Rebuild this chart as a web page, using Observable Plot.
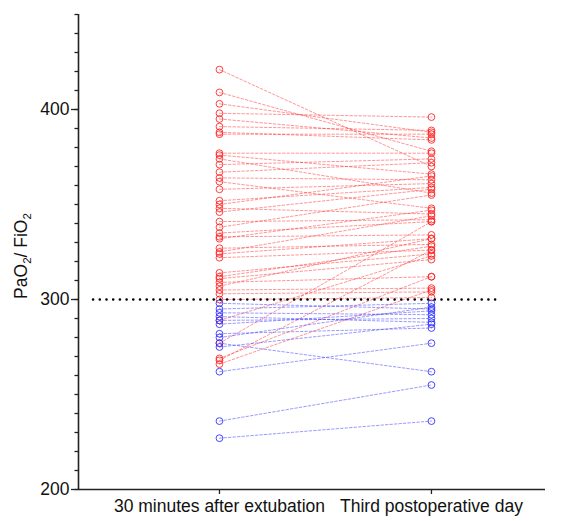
<!DOCTYPE html>
<html>
<head>
<meta charset="utf-8">
<script src="https://cdn.jsdelivr.net/npm/d3@7"></script>
<script src="https://cdn.jsdelivr.net/npm/@observablehq/plot@0.6"></script>
<style>
  html, body { margin: 0; padding: 0; background: #fff; }
  #chart { width: 563px; height: 521px; }
  svg { font-family: "Liberation Sans", Arial, sans-serif; }
</style>
</head>
<body>
<div id="chart"></div>
<script>
// Categories (x)
const categories = ["30 minutes after extubation", "Third postoperative day"];
// PaO2/FiO2 at 30 minutes after extubation (one per patient)
const before = [421, 409, 403, 398, 395, 391, 388, 387, 377, 376, 374, 371, 367, 364, 362, 358,
  352, 350, 348, 346, 341, 338, 335, 333, 332, 327, 325, 324, 322, 314, 312, 311, 309, 307, 305,
  303, 300, 289, 277, 269, 268, 266,
  298, 295, 293, 291, 289, 287, 282, 280, 277, 275, 262, 236, 227];
// PaO2/FiO2 on the third postoperative day (same patients, same order)
const after = [370, 378, 388, 396, 385, 389, 384, 387, 377, 366, 356, 374, 372, 363, 348, 361,
  359, 365, 345, 358, 342, 355, 341, 334, 347, 329, 344, 332, 326, 324, 328, 321, 312, 332, 306,
  304, 301, 323, 341, 312, 326, 305,
  295, 298, 292, 288, 290, 294, 285, 296, 262, 287, 277, 255, 236];
// Threshold reference line
const threshold = 300;
const yTicks = [200, 300, 400];
const yMinorTicks = d3.range(200, 451, 10);
const yDomain = [200, 450];
const xDomain = [-0.665, 1.538];
const thresholdExtent = [-0.594, 1.311];

const patients = before.map((b, i) => ({id: i, b, a: after[i], high: after[i] >= threshold}));
const points = patients.flatMap(p => [
  {id: p.id, x: 0, y: p.b, high: p.high},
  {id: p.id, x: 1, y: p.a, high: p.high}
]);

const RED = "#ff2020", BLUE = "#2a2aff";
const col = d => d.high ? RED : BLUE;

const chart = Plot.plot({
  width: 563,
  height: 521,
  marginLeft: 78,
  marginRight: 18,
  marginTop: 14,
  marginBottom: 32,
  style: {fontFamily: "Liberation Sans, Arial, sans-serif", background: "#fff"},
  x: {type: "linear", domain: xDomain, axis: null},
  y: {type: "linear", domain: yDomain, axis: null},
  marks: [
    // minor ticks
    Plot.axisY({ticks: yMinorTicks, tickSize: 3.5, tickFormat: () => "", label: null, stroke: "#222", strokeWidth: 1.3}),
    // major ticks + labels
    Plot.axisY({ticks: yTicks, tickSize: 7, tickPadding: 2, fontSize: 17.5, label: null, fill: "#111", stroke: "#222", strokeWidth: 1.3, tickFormat: d => String(d)}),
    Plot.axisX({ticks: [0, 1], tickSize: 5, tickPadding: 5, fontSize: 17.5, label: null, fill: "#111", stroke: "#222", strokeWidth: 1.3, tickFormat: i => categories[i]}),
    // connecting lines
    Plot.line(points, {x: "x", y: "y", z: "id", stroke: col, strokeWidth: 0.8, strokeDasharray: "2.5,2", strokeOpacity: 0.6}),
    // circles
    Plot.dot(points, {x: "x", y: "y", r: 3.4, stroke: col, strokeWidth: 1, fill: "none", strokeOpacity: 0.85}),
    // threshold dotted line
    Plot.ruleY([threshold], {x1: thresholdExtent[0], x2: thresholdExtent[1], stroke: "#000", strokeWidth: 2.5, strokeDasharray: "0.1,6.6", strokeLinecap: "round"}),
    // axis lines
    Plot.ruleX([xDomain[0]], {y1: yDomain[0], y2: yDomain[1], stroke: "#222", strokeWidth: 1.6}),
    Plot.ruleY([yDomain[0]], {stroke: "#222", strokeWidth: 1.6})
  ]
});

document.getElementById("chart").appendChild(chart);

// Y axis label with subscripts
const svg = d3.select(chart);
const lbl = svg.append("text")
  .attr("transform", "translate(27,256) rotate(-90)")
  .attr("text-anchor", "middle")
  .attr("font-size", 17.5)
  .attr("fill", "#111");
lbl.append("tspan").text("PaO");
lbl.append("tspan").attr("font-size", 11.5).attr("dy", 4).text("2");
lbl.append("tspan").attr("dy", -4).text("/ FiO");
lbl.append("tspan").attr("font-size", 11.5).attr("dy", 4).text("2");
</script>
</body>
</html>
